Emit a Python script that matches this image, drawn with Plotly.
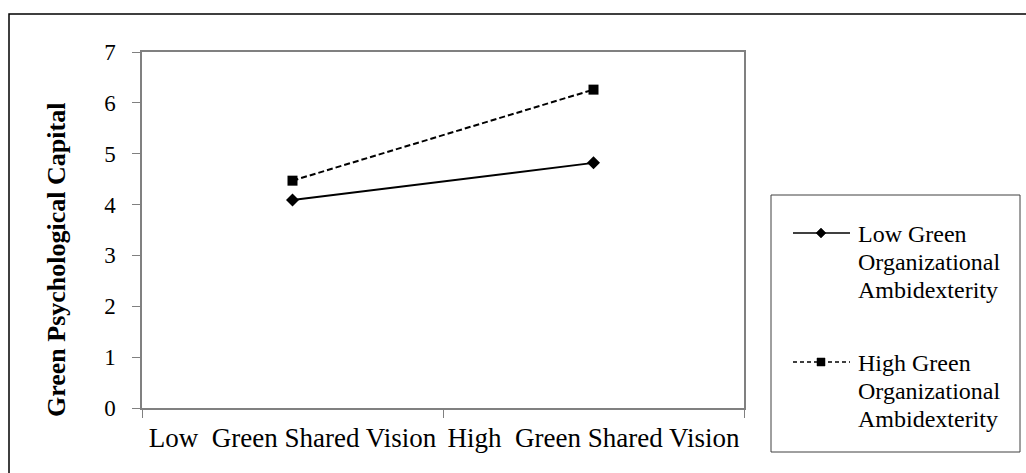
import plotly.graph_objects as go

# Data
categories = ["Low\u00a0\u00a0Green Shared Vision", "High\u00a0\u00a0Green Shared Vision"]
low_goa = [4.09, 4.82]
high_goa = [4.47, 6.26]
y_ticks = [0, 1, 2, 3, 4, 5, 6, 7]
series_names = [
    "Low Green<br>Organizational<br>Ambidexterity",
    "High Green<br>Organizational<br>Ambidexterity",
]
y_title = "Green Psychological Capital"

# Canvas and plot-area geometry (pixels)
W, H = 1026, 473
L, R, T, B = 142, 744, 52, 408


def px(x):
    return (x - L) / (R - L)


def py(y):
    return (B - y) / (B - T)


FONT = "Liberation Serif"
AXIS_GRAY = "#808080"

fig = go.Figure()
fig.add_trace(go.Scatter(
    x=categories, y=low_goa, mode="lines+markers", name=series_names[0],
    line=dict(color="black", width=2),
    marker=dict(symbol="diamond", size=10, color="black"),
))
fig.add_trace(go.Scatter(
    x=categories, y=high_goa, mode="lines+markers", name=series_names[1],
    line=dict(color="black", width=2, dash="6px,3px"),
    marker=dict(symbol="square", size=10, color="black"),
))

shapes = []
annotations = []

# outer frame (only its top and left edges fall inside the canvas)
shapes.append(dict(type="rect", xref="paper", yref="paper",
                   x0=px(9), x1=px(1040), y0=py(490), y1=py(14),
                   line=dict(color="black", width=1.5), layer="below"))

# legend box
shapes.append(dict(type="rect", xref="paper", yref="paper",
                   x0=px(771), x1=px(1020), y0=py(452), y1=py(195),
                   line=dict(color="#404040", width=1)))

# legend entries: sample line + marker + three text lines
entry_tops = [233, 362]
line_gap = 28
dashes = ["solid", "4px,3px"]
cx = 821
for i, (top, name, dash) in enumerate(zip(entry_tops, series_names, dashes)):
    shapes.append(dict(type="line", xref="paper", yref="paper",
                       x0=px(793), x1=px(850), y0=py(top), y1=py(top),
                       line=dict(color="black", width=1.5, dash=dash)))
    if i == 0:
        d = 5
        shapes.append(dict(type="path", xref="paper", yref="paper",
                           path=f"M {px(cx - d)},{py(top)} L {px(cx)},{py(top - d)} "
                                f"L {px(cx + d)},{py(top)} L {px(cx)},{py(top + d)} Z",
                           fillcolor="black", line=dict(color="black", width=0.5)))
    else:
        s = 4
        shapes.append(dict(type="rect", xref="paper", yref="paper",
                           x0=px(cx - s), x1=px(cx + s),
                           y0=py(top + s), y1=py(top - s),
                           fillcolor="black", line=dict(color="black", width=0.5)))
    for k, part in enumerate(name.split("<br>")):
        annotations.append(dict(
            text=part, xref="paper", yref="paper",
            x=px(856), y=py(top + k * line_gap + 1),
            xanchor="left", yanchor="middle", align="left", showarrow=False,
            font=dict(family=FONT, size=24, color="black")))

# vertical axis title
annotations.append(dict(
    text=f"<b>{y_title}</b>", xref="paper", yref="paper",
    x=px(56), y=py(260), xanchor="center", yanchor="middle",
    textangle=-90, showarrow=False,
    font=dict(family=FONT, size=26, color="black")))

fig.update_layout(
    width=W, height=H,
    margin=dict(l=L, r=W - R, t=T, b=H - B, autoexpand=False),
    paper_bgcolor="white", plot_bgcolor="white",
    showlegend=False,
    shapes=shapes, annotations=annotations,
    font=dict(family=FONT, color="black"),
    xaxis=dict(
        type="category", range=[-0.5, 1.5],
        showline=True, linecolor=AXIS_GRAY, linewidth=1.5, mirror=True,
        ticks="outside", tickson="boundaries", ticklen=8, tickcolor=AXIS_GRAY,
        tickwidth=1, showgrid=False, tickangle=0,
        tickfont=dict(family=FONT, size=27, color="black"),
        ticklabelstandoff=5,
    ),
    yaxis=dict(
        range=[0, 7], tickvals=y_ticks,
        showline=True, linecolor=AXIS_GRAY, linewidth=1.5, mirror=True,
        ticks="outside", ticklen=8, tickcolor=AXIS_GRAY, tickwidth=1,
        showgrid=False, zeroline=False,
        tickfont=dict(family=FONT, size=23, color="black"),
        ticklabelstandoff=12,
    ),
)

fig.write_html("out.html")
